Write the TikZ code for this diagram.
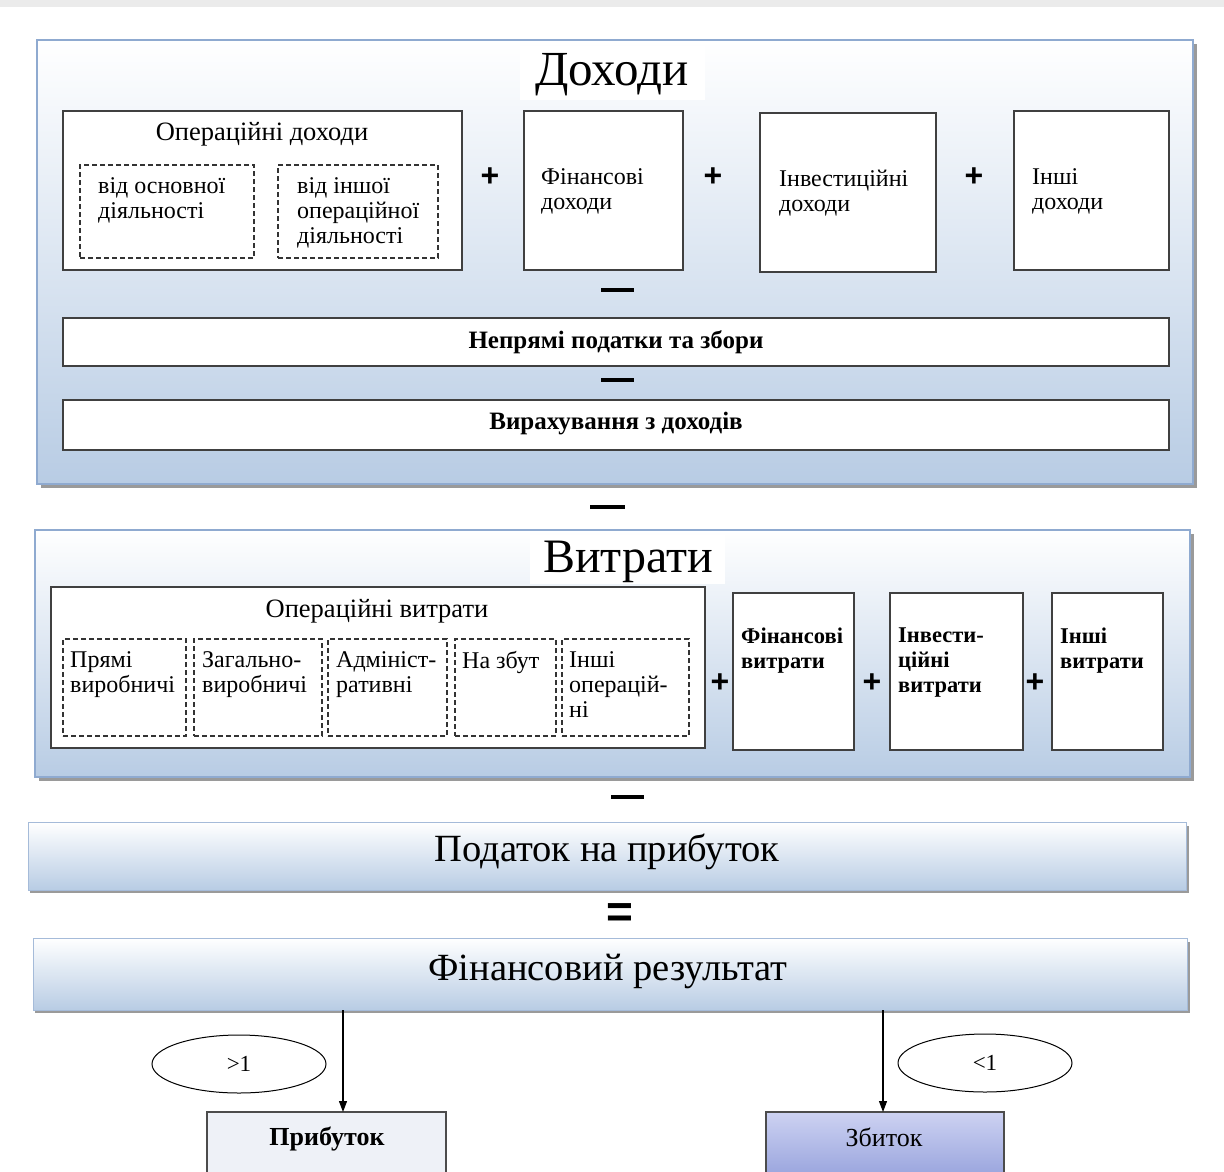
\documentclass[tikz,border=0pt]{standalone}
\usepackage{fontspec}
\setmainfont{Liberation Serif}
\newfontfamily\symfont{Liberation Sans}
\usetikzlibrary{arrows.meta,shapes.geometric}
\definecolor{panelbot}{HTML}{B8CCE4}
\definecolor{panelline}{HTML}{8FAAD0}
\definecolor{shadowc}{HTML}{9A9A9A}
\definecolor{lossTop}{HTML}{CDD2F2}
\definecolor{lossBot}{HTML}{9BA6DE}
\definecolor{profitfill}{HTML}{EEF1F7}
\begin{document}
\begin{tikzpicture}[x=1pt,y=-1pt,
  panel/.style={draw=panelline, line width=1.5pt, top color=white, bottom color=panelbot, inner sep=0pt, outer sep=0pt, anchor=north west},
  wbox/.style={draw=black!75, line width=1.3pt, fill=white, inner sep=0pt, outer sep=0pt, anchor=north west},
  dbox/.style={draw=black!80, line width=1.3pt, dash pattern=on 5pt off 3pt, inner sep=0pt, outer sep=0pt, anchor=north west},
  txt/.style={font=\fontsize{24}{25}\selectfont, align=left, anchor=north west, inner sep=0pt},
  btxt/.style={txt, font=\fontsize{22.5}{25}\selectfont\bfseries},
  ctxt/.style={font=\fontsize{24}{25}\selectfont, inner sep=0pt},
  subtitle/.style={font=\fontsize{26.5}{28}\selectfont, inner sep=0pt},
  bctxt/.style={font=\fontsize{25}{27}\selectfont\bfseries, inner sep=0pt},
  title/.style={font=\fontsize{49}{52}\selectfont, inner sep=0pt},
  bigtxt/.style={font=\fontsize{38.5}{42}\selectfont, inner sep=0pt},
  plus/.style={font=\symfont\bfseries\fontsize{32}{32}\selectfont, inner sep=0pt},
  minus/.style={fill=black, minimum width=33pt, minimum height=4.5pt, inner sep=0pt},
  arr/.style={-{Triangle[length=11pt,width=8pt]}, line width=1.2pt, black},
  oval/.style={ellipse, draw=black, line width=1pt, fill=white, minimum width=174pt, minimum height=58pt, inner sep=0pt, font=\fontsize{23}{25}\selectfont}
]
\useasboundingbox (0,0) rectangle (1224,1171);
\fill[white] (0,0) rectangle (1224,1171);
\fill[black!8] (0,0) rectangle (1224,7);

% ---------- Доходи panel ----------
\fill[shadowc] (41,44) rectangle (1197,488);
\node[panel, minimum width=1156pt, minimum height=444pt] (income) at (37,40) {};
\fill[white] (520,46) rectangle (705,100);
\node[title] (incomeT) at (612,75) {Доходи};

\node[wbox, minimum width=399pt, minimum height=159pt] (opinc) at (63,111) {};
\node[subtitle] (opincT) at (262,134) {Операційні доходи};
\node[dbox, minimum width=174pt, minimum height=93pt] (opinc1) at (80,165) {};
\node[txt] (opinc1T) at ([xshift=18pt,yshift=-12pt]opinc1.north west) {від основної\\діяльності};
\node[dbox, minimum width=160pt, minimum height=93pt] (opinc2) at (278,165) {};
\node[txt] (opinc2T) at ([xshift=19pt,yshift=-12pt]opinc2.north west) {від іншої\\операційної\\діяльності};

\node[plus] (p1) at (490,177) {+};
\node[wbox, minimum width=159pt, minimum height=159pt] (fininc) at (524,111) {};
\node[txt] (fincT) at (541,168) {Фінансові\\доходи};
\node[plus] (p2) at (713,177) {+};
\node[wbox, minimum width=176pt, minimum height=159pt] (invinc) at (760,113) {};
\node[txt] (invincT) at (779,170) {Інвестиційні\\доходи};
\node[plus] (p3) at (974,177) {+};
\node[wbox, minimum width=155pt, minimum height=159pt] (othinc) at (1014,111) {};
\node[txt] (othincT) at (1032,168) {Інші\\доходи};

\node[minus] (m1) at (617,290) {};
\node[wbox, minimum width=1106pt, minimum height=48pt] (indir) at (63,318) {};
\node[bctxt] (indirT) at (616,342) {Непрямі податки та збори};
\node[minus] (m2) at (617,380) {};
\node[wbox, minimum width=1106pt, minimum height=50pt] (deduct) at (63,400) {};
\node[bctxt] (deductT) at (616,424) {Вирахування з доходів};

\node[minus, minimum width=35pt] (m3) at (607,507) {};

% ---------- Витрати panel ----------
\fill[shadowc] (39,534) rectangle (1194,781);
\node[panel, minimum width=1155pt, minimum height=247pt] (cost) at (35,530) {};
\fill[white] (530,535) rectangle (725,584);
\node[title, font=\fontsize{48}{52}\selectfont] (costT) at (628,562) {Витрати};

\node[wbox, minimum width=654pt, minimum height=161pt] (opcost) at (51,587) {};
\node[subtitle] (opcostT) at (377,611) {Операційні витрати};
\node[dbox, minimum width=123pt, minimum height=97pt] (oc1) at (63,639) {};
\node[txt] (oc1T) at ([xshift=7pt,yshift=-12pt]oc1.north west) {Прямі\\виробничі};
\node[dbox, minimum width=128pt, minimum height=97pt] (oc2) at (194,639) {};
\node[txt] (oc2T) at ([xshift=8pt,yshift=-12pt]oc2.north west) {Загально-\\виробничі};
\node[dbox, minimum width=119pt, minimum height=97pt] (oc3) at (328,639) {};
\node[txt] (oc3T) at ([xshift=8pt,yshift=-12pt]oc3.north west) {Адмініст-\\ративні};
\node[dbox, minimum width=101pt, minimum height=97pt] (oc4) at (455,639) {};
\node[txt] (oc4T) at ([xshift=7pt,yshift=-12pt]oc4.north west) {На збут};
\node[dbox, minimum width=127pt, minimum height=97pt] (oc5) at (562,639) {};
\node[txt] (oc5T) at ([xshift=7pt,yshift=-12pt]oc5.north west) {Інші\\операцій-\\ні};

\node[plus] (p4) at (720,683) {+};
\node[wbox, minimum width=121pt, minimum height=157pt] (fincost) at (733,593) {};
\node[btxt] (fincostT) at (741,628) {Фінансові\\витрати};
\node[plus] (p5) at (872,683) {+};
\node[wbox, minimum width=133pt, minimum height=157pt] (invcost) at (890,593) {};
\node[btxt] (invcostT) at (898,628) {Інвести-\\ційні\\витрати};
\node[plus] (p6) at (1035,683) {+};
\node[wbox, minimum width=111pt, minimum height=157pt] (othcost) at (1052,593) {};
\node[btxt] (othcostT) at (1060,628) {Інші\\витрати};

\node[minus] (m4) at (627,797) {};

% ---------- Податок ----------
\fill[shadowc] (30,826) rectangle (1189,893);
\node[panel, draw=panelline!80, line width=1pt, minimum width=1158pt, minimum height=68pt] (tax) at (28,822) {};
\node[bigtxt] (taxT) at (607,852) {Податок на прибуток};

\node[font=\symfont\bfseries\fontsize{46}{46}\selectfont, inner sep=0pt] (eq) at (620,916) {=};

\fill[shadowc] (35,942) rectangle (1190,1013);
\node[panel, draw=panelline!80, line width=1pt, minimum width=1154pt, minimum height=72pt] (res) at (33,938) {};
\node[bigtxt] (resT) at (608,971) {Фінансовий результат};

% ---------- outcomes ----------
\node[wbox, draw=black!70, fill=profitfill, minimum width=239pt, minimum height=62pt] (profit) at (207,1112) {};
\node[bctxt, font=\fontsize{26}{28}\selectfont\bfseries] (profitT) at (327,1139) {Прибуток};
\node[wbox, draw=black!70, top color=lossTop, bottom color=lossBot, minimum width=238pt, minimum height=62pt] (loss) at (766,1112) {};
\node[ctxt, font=\fontsize{26}{28}\selectfont] (lossT) at (884,1137) {Збиток};

\coordinate (resL) at (343,1010);
\coordinate (resR) at (883,1010);
\draw[arr] (resL) -- (resL |- profit.north);
\draw[arr] (resR) -- (resR |- loss.north);

\node[oval] (gt) at (239,1064) {>1};
\node[oval] (lt) at (985,1063) {<1};
\end{tikzpicture}
\end{document}
